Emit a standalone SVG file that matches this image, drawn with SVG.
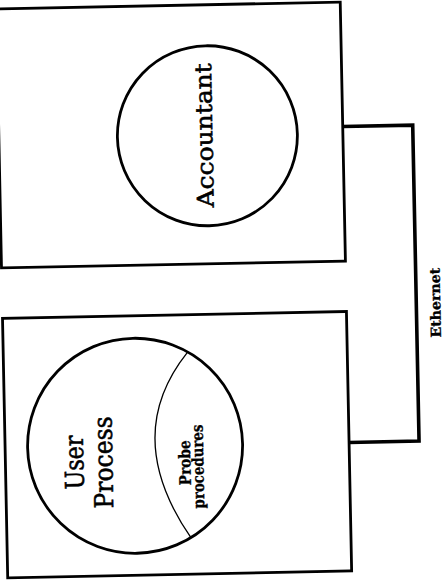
<svg xmlns="http://www.w3.org/2000/svg" width="445" height="582" viewBox="0 0 445 582">
  <style>
    .box { fill: none; stroke: #000; stroke-width: 2.8; }
    .proc { fill: none; stroke: #000; stroke-width: 2.8; }
    .divider { fill: none; stroke: #000; stroke-width: 1.3; }
    .net { fill: none; stroke: #000; stroke-width: 3.6; stroke-linejoin: miter; }
    .big { font-family: "DejaVu Serif", "Liberation Serif", serif; fill: #000; stroke: #000; stroke-width: 0.55; text-anchor: middle; }
    .small { font-family: "DejaVu Serif", "Liberation Serif", serif; font-weight: bold; fill: #000; stroke: #000; stroke-width: 0.3; text-anchor: middle; }
  </style>
  <rect width="445" height="582" fill="#fff"/>
  <g transform="rotate(-1.15 222 291)">
    <!-- Ethernet link between the two machines -->
    <g id="connectors">
      <polyline class="net" points="346,129 416,129 416,445 346,445"/>
      <text class="small" font-size="14" textLength="70" lengthAdjust="spacingAndGlyphs" transform="translate(440 307) rotate(-90)">Ethernet</text>
    </g>

    <!-- Machine running the accountant -->
    <g id="accountant-host">
      <rect class="box" x="2" y="4.5" width="344" height="259"/>
      <g id="accountant">
        <circle class="proc" cx="210.5" cy="135.5" r="90"/>
        <text class="big" font-size="23" textLength="144" lengthAdjust="spacingAndGlyphs" transform="translate(215.5 135) rotate(-90)">Accountant</text>
      </g>
    </g>

    <!-- Machine running the user process -->
    <g id="user-host">
      <rect class="box" x="2" y="314" width="344" height="259.5"/>
      <g id="user-process">
        <circle class="proc" cx="132" cy="444" r="107.5"/>
        <text class="big" font-size="26" textLength="54" lengthAdjust="spacingAndGlyphs" transform="translate(80 459.5) rotate(-90)">User</text>
        <text class="big" font-size="26" textLength="92" lengthAdjust="spacingAndGlyphs" transform="translate(109 460) rotate(-90)">Process</text>
      </g>
      <g id="probe-procedures">
        <path class="divider" d="M186,352 Q118,434 186,537"/>
        <text class="small" font-size="16" textLength="45" lengthAdjust="spacingAndGlyphs" transform="translate(187 462) rotate(-90)">Probe</text>
        <text class="small" font-size="16" textLength="84" lengthAdjust="spacingAndGlyphs" transform="translate(200 466) rotate(-90)">procedures</text>
      </g>
    </g>
  </g>
</svg>
